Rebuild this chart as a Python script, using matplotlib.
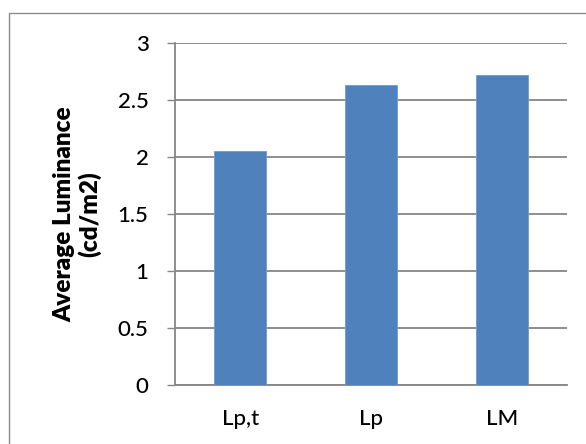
import matplotlib
matplotlib.use("Agg")
import matplotlib.pyplot as plt
from matplotlib.patches import Rectangle

categories = ["Lp,t", "Lp", "LM"]
luminance = [2.05, 2.63, 2.72]
yticks = [0, 0.5, 1, 1.5, 2, 2.5, 3]
ytick_labels = ["0", "0.5", "1", "1.5", "2", "2.5", "3"]

plt.rcParams["font.family"] = ["Lato", "DejaVu Sans"]

W, H = 586, 444
fig = plt.figure(figsize=(W / 100, H / 100), dpi=100)
fig.patch.set_facecolor("white")

# chart border (extends past the right and bottom edges)
fig.add_artist(Rectangle((9.5 / W, -0.1), 1.2, (H - 13) / H + 0.1,
                         transform=fig.transFigure, fill=False,
                         edgecolor="#8c8c8c", linewidth=1.0))

ax = fig.add_axes([175 / W, (H - 385) / H, (567 - 175) / W, (385 - 42.7) / H])

grid_color = "#868686"
x = range(len(categories))
ax.bar(x, luminance, width=0.4, color="#4F81BD", edgecolor="#6f9ad0",
       linewidth=0.6, zorder=3)

ax.set_xlim(-0.5, len(categories) - 0.5)
ax.set_ylim(0, 3)
ax.set_yticks(yticks)
ax.set_yticklabels(ytick_labels, fontweight=500)
ax.set_xticks(list(x))
ax.set_xticklabels(categories, fontweight=500)

ax.yaxis.grid(True, color=grid_color, linewidth=1.3, zorder=0)
ax.set_axisbelow(True)

for side in ("top", "right"):
    ax.spines[side].set_visible(False)
for side in ("left", "bottom"):
    ax.spines[side].set_color(grid_color)
    ax.spines[side].set_linewidth(1.3)

fs = 16
ax.tick_params(axis="y", direction="out", length=6, width=1.0,
               color=grid_color, labelsize=fs, pad=13)
ax.tick_params(axis="x", length=0, labelsize=fs, pad=17)

ax.set_ylabel("Average Luminance\n(cd/m2)", fontsize=17.5, fontweight=800,
              linespacing=1.1, labelpad=12)

fig.savefig("out.png", dpi=100, facecolor="white")
